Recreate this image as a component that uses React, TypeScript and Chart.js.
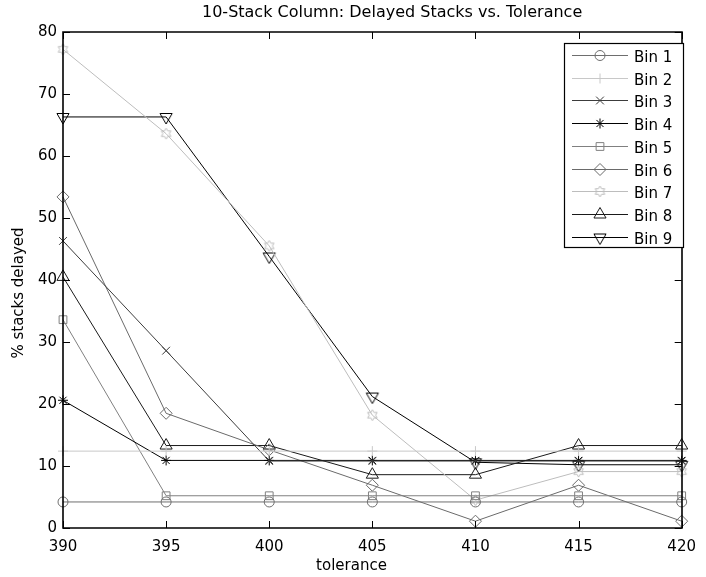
import React, { useEffect, useRef } from 'react';
import { Chart, registerables } from 'chart.js';
import { drawPoint } from 'chart.js/helpers';

Chart.register(...registerables);

const tolerance = [390, 395, 400, 405, 410, 415, 420];
const binLabels = ['Bin 1', 'Bin 2', 'Bin 3', 'Bin 4', 'Bin 5', 'Bin 6', 'Bin 7', 'Bin 8', 'Bin 9'];
const bin1 = [4.2, 4.2, 4.2, 4.2, 4.2, 4.2, 4.2];
const bin2 = [12.4, 12.4, 12.4, 12.4, 12.4, 12.4, 12.4];
const bin3 = [46.3, 28.6, 10.8, 10.8, 10.8, 10.8, 10.8];
const bin4 = [20.6, 10.9, 10.9, 10.9, 10.9, 10.9, 10.9];
const bin5 = [33.6, 5.2, 5.2, 5.2, 5.2, 5.2, 5.2];
const bin6 = [53.4, 18.5, 12.6, 6.9, 1.1, 6.9, 1.1];
const bin7 = [77.2, 63.6, 45.5, 18.2, 4.5, 9.1, 9.1];
const bin8 = [40.5, 13.3, 13.3, 8.6, 8.6, 13.3, 13.3];
const bin9 = [66.3, 66.3, 43.8, 21.2, 10.6, 10.2, 10.2];
const xTicks = [390, 395, 400, 405, 410, 415, 420];
const yTicks = [0, 10, 20, 30, 40, 50, 60, 70, 80];

const titleText = '10-Stack Column: Delayed Stacks vs. Tolerance';
const xTitle = 'tolerance';
const yTitle = '% stacks delayed';

const FONT = "'DejaVu Sans', 'Liberation Sans', Arial, sans-serif";

function makeDownTriangle(color: string, r: number) {
  const size = Math.ceil(r * 2 + 4);
  const c = document.createElement('canvas');
  c.width = size;
  c.height = size;
  const ctx = c.getContext('2d')!;
  const cx = size / 2;
  const cy = size / 2;
  ctx.strokeStyle = color;
  ctx.lineWidth = 1;
  ctx.beginPath();
  ctx.moveTo(cx, cy + r);
  ctx.lineTo(cx - r * Math.cos(Math.PI / 6), cy - r / 2);
  ctx.lineTo(cx + r * Math.cos(Math.PI / 6), cy - r / 2);
  ctx.closePath();
  ctx.stroke();
  return c;
}

function makeHexagram(color: string, r: number) {
  const size = Math.ceil(r * 2 + 4);
  const c = document.createElement('canvas');
  c.width = size;
  c.height = size;
  const ctx = c.getContext('2d')!;
  const cx = size / 2;
  const cy = size / 2;
  ctx.strokeStyle = color;
  ctx.lineWidth = 1;
  const pts: [number, number][] = [];
  for (let i = 0; i < 12; i++) {
    const a = -Math.PI / 2 + (i * Math.PI) / 6;
    const rr = i % 2 === 0 ? r : r * 0.577;
    pts.push([cx + rr * Math.cos(a), cy + rr * Math.sin(a)]);
  }
  ctx.beginPath();
  pts.forEach((p, i) => (i === 0 ? ctx.moveTo(p[0], p[1]) : ctx.lineTo(p[0], p[1])));
  ctx.closePath();
  ctx.stroke();
  return c;
}

const frameAndLegend = {
  id: 'frameAndLegend',
  afterDatasetsDraw(chart: any) {
    const { ctx, chartArea } = chart;
    const { left, right, top, bottom } = chartArea;
    const xs = chart.scales.x;
    const ys = chart.scales.y;
    ctx.save();
    ctx.strokeStyle = '#000';
    ctx.lineWidth = 1.6;
    ctx.beginPath();
    ctx.rect(Math.round(left), Math.round(top), Math.round(right - left), Math.round(bottom - top));
    ctx.stroke();
    const tl = 7;
    ctx.lineWidth = 1;
    ctx.beginPath();
    xTicks.forEach((v) => {
      const px = Math.round(xs.getPixelForValue(v)) + 0.5;
      ctx.moveTo(px, bottom);
      ctx.lineTo(px, bottom - tl);
      ctx.moveTo(px, top);
      ctx.lineTo(px, top + tl);
    });
    yTicks.forEach((v) => {
      const py = Math.round(ys.getPixelForValue(v)) + 0.5;
      ctx.moveTo(left, py);
      ctx.lineTo(left + tl, py);
      ctx.moveTo(right, py);
      ctx.lineTo(right - tl, py);
    });
    ctx.stroke();

    // legend
    const lx0 = 564.5;
    const ly0 = 43.5;
    const lw = 119;
    const lh = 204;
    ctx.fillStyle = '#fff';
    ctx.fillRect(lx0, ly0, lw, lh);
    ctx.strokeStyle = '#000';
    ctx.lineWidth = 1.2;
    ctx.strokeRect(lx0, ly0, lw, lh);
    chart.data.datasets.forEach((ds: any, i: number) => {
      const y = 55 + i * 22.7;
      ctx.strokeStyle = ds.borderColor;
      ctx.lineWidth = 1;
      ctx.beginPath();
      ctx.moveTo(572, Math.round(y) + 0.5);
      ctx.lineTo(628, Math.round(y) + 0.5);
      ctx.stroke();
      ctx.fillStyle = 'rgba(0,0,0,0)';
      drawPoint(ctx, { pointStyle: ds.pointStyle, radius: ds.pointRadius, rotation: 0, borderWidth: 1 }, 600, Math.round(y) + 0.5);
      ctx.fillStyle = '#000';
      ctx.font = `15px ${FONT}`;
      ctx.textAlign = 'left';
      ctx.textBaseline = 'alphabetic';
      ctx.fillText(ds.label, 634, y + 7);
    });

    // titles
    ctx.fillStyle = '#000';
    ctx.font = `16px ${FONT}`;
    ctx.textAlign = 'left';
    ctx.textBaseline = 'alphabetic';
    ctx.fillText(titleText, 202, 17);
    ctx.font = `15px ${FONT}`;
    ctx.textAlign = 'center';
    ctx.fillText(xTitle, 351.5, 570);
    ctx.save();
    ctx.translate(19, 293);
    ctx.rotate(-Math.PI / 2);
    ctx.textBaseline = 'middle';
    ctx.fillText(yTitle, 0, 0);
    ctx.restore();
    ctx.restore();
  },
};

export default function App() {
  const ref = useRef<HTMLCanvasElement>(null);
  useEffect(() => {
    if (!ref.current) return;
    const downTri = makeDownTriangle('#000', 7);
    const hexa = makeHexagram('#bdbdbd', 5.5);
    const series = [
      { data: bin1, color: '#6e6e6e', style: 'circle', r: 5 },
      { data: bin2, color: '#c8c8c8', style: 'cross', r: 5 },
      { data: bin3, color: '#3c3c3c', style: 'crossRot', r: 5.5 },
      { data: bin4, color: '#000000', style: 'star', r: 5 },
      { data: bin5, color: '#808080', style: 'rect', r: 5.5 },
      { data: bin6, color: '#6a6a6a', style: 'rectRot', r: 6 },
      { data: bin7, color: '#bdbdbd', style: hexa, r: 5.5 },
      { data: bin8, color: '#1a1a1a', style: 'triangle', r: 7 },
      { data: bin9, color: '#000000', style: downTri, r: 7 },
    ];
    const chart = new Chart(ref.current, {
      type: 'line',
      data: {
        datasets: series.map((s, i) => ({
          label: binLabels[i],
          data: s.data.map((y, j) => ({ x: tolerance[j], y })),
          borderColor: s.color,
          borderWidth: 1,
          pointStyle: s.style as any,
          pointRadius: s.r,
          pointBorderColor: s.color,
          pointBackgroundColor: 'rgba(0,0,0,0)',
          pointBorderWidth: 1,
          tension: 0,
          clip: false as any,
        })),
      },
      options: {
        animation: false,
        responsive: false,
        layout: { padding: { top: 32, right: 14, bottom: 0, left: 0 } },
        plugins: {
          legend: { display: false },
          title: { display: false },
          tooltip: { enabled: false },
        },
        scales: {
          x: {
            type: 'linear',
            min: 390,
            max: 420,
            afterFit: (s: any) => {
              s.height = 49;
            },
            afterBuildTicks: (s: any) => {
              s.ticks = xTicks.map((v) => ({ value: v }));
            },
            grid: { display: false, drawTicks: false },
            border: { display: false },
            ticks: {
              padding: 10,
              color: '#000',
              font: { family: FONT, size: 15 },
            },
          },
          y: {
            type: 'linear',
            min: 0,
            max: 80,
            afterFit: (s: any) => {
              s.width = 63;
            },
            afterBuildTicks: (s: any) => {
              s.ticks = yTicks.map((v) => ({ value: v }));
            },
            grid: { display: false, drawTicks: false },
            border: { display: false },
            ticks: {
              padding: 6,
              color: '#000',
              font: { family: FONT, size: 15 },
            },
          },
        },
      },
      plugins: [frameAndLegend],
    });
    return () => chart.destroy();
  }, []);
  return (
    <div style={{ position: 'fixed', left: 0, top: 0, width: 706, height: 577, background: '#fff' }}>
      <canvas ref={ref} width={706} height={577} style={{ display: 'block' }} />
    </div>
  );
}
